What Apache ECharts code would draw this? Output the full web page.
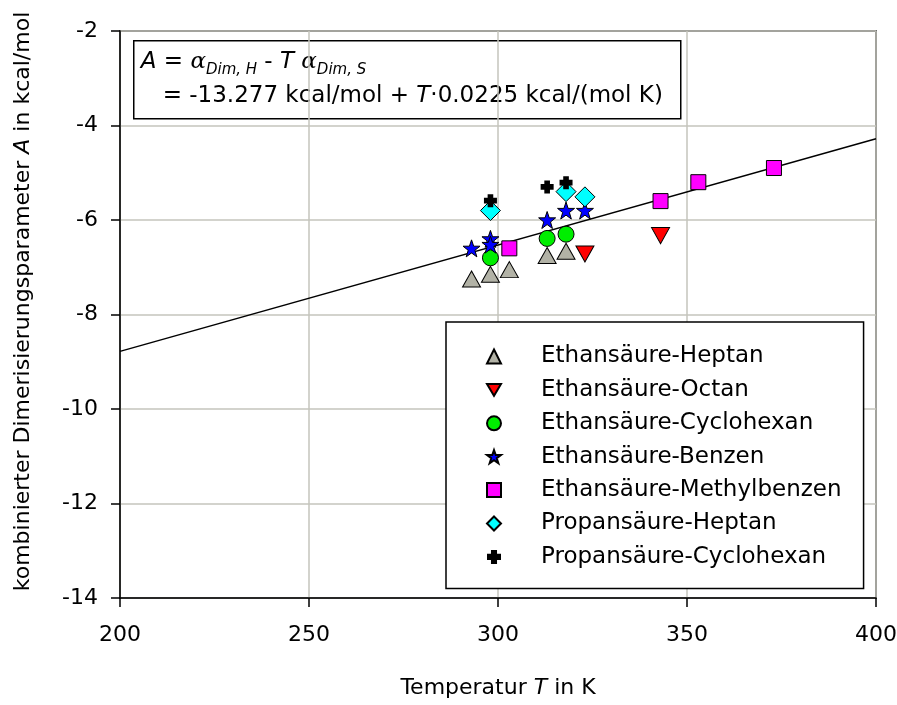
<!DOCTYPE html>
<html>
<head>
<meta charset="utf-8">
<script src="https://cdn.jsdelivr.net/npm/echarts@6/dist/echarts.min.js"></script>
<style>
  html, body { margin: 0; padding: 0; background: #fff; }
  #main { width: 897px; height: 705px; }
</style>
</head>
<body>
<div id="main"></div>
<script>
// Messwerte [T in K, A in kcal/mol]
var heptan = [[293, -7.25], [298, -7.15], [303, -7.05], [313, -6.75], [318, -6.66]];
var octan = [[323, -6.72], [343, -6.33]];
var cyclohexan = [[298, -6.80], [313, -6.39], [318, -6.30]];
var benzen = [[293, -6.60], [298, -6.40], [298, -6.52], [313, -6.00], [318, -5.80], [323, -5.80]];
var methylbenzen = [[303, -6.60], [343, -5.60], [353, -5.20], [373, -4.90]];
var propHeptan = [[298, -5.80], [318, -5.40], [323, -5.51]];
var propCyclohexan = [[298, -5.59], [313, -5.30], [318, -5.21]];

// Ausgleichsgerade, Endpunkte
var fitT = [200, 400];
var fitA = [-8.78, -4.28];

var xTicks = [200, 250, 300, 350, 400];
var yTicks = [-14, -12, -10, -8, -6, -4, -2];

var FONT = 'DejaVu Sans, sans-serif';
var STAR = 'path://M50,0 L62,34 L98,34 L69,56 L80,91 L50,70 L20,91 L31,56 L2,34 L38,34 Z';
var PLUS = 'path://M-1.3,-3 L1.3,-3 L1.3,-1.3 L3,-1.3 L3,1.3 L1.3,1.3 L1.3,3 L-1.3,3 L-1.3,1.3 L-3,1.3 L-3,-1.3 L-1.3,-1.3 Z';
var TRI_DOWN = 'path://M0,0 L20,0 L10,17 Z';

var myChart = echarts.init(document.getElementById('main'));

function scatter(name, data, symbol, size, color, extra) {
    var s = {
        name: name,
        type: 'scatter',
        data: data,
        symbol: symbol,
        symbolSize: size,
        itemStyle: { color: color, borderColor: '#000', borderWidth: 1, opacity: 1 },
        emphasis: { disabled: true },
        z: 3
    };
    for (var k in extra) s[k] = extra[k];
    return s;
}

var option = {
    animation: false,
    grid: {
        left: 120, right: 21, top: 31, bottom: 107,
        containLabel: false,
        outerBoundsMode: 'none',
        show: true, borderColor: '#000', borderWidth: 1.5
    },
    xAxis: {
        type: 'value',
        min: xTicks[0], max: xTicks[xTicks.length - 1], interval: 50,
        name: 'Temperatur {i|T} in K',
        nameLocation: 'middle',
        nameGap: 79,
        nameTextStyle: { fontFamily: FONT, fontSize: 22, color: '#000', rich: { i: { fontStyle: 'italic', fontFamily: FONT, fontSize: 22 } } },
        axisLine: { lineStyle: { color: '#000', width: 1.5 } },
        axisTick: { inside: false, length: 9, lineStyle: { color: '#000', width: 1.5 } },
        axisLabel: { fontFamily: FONT, fontSize: 22, color: '#000', margin: 26 },
        splitLine: { lineStyle: { color: '#c4c4bc', width: 1.5 } }
    },
    yAxis: {
        type: 'value',
        min: yTicks[0], max: yTicks[yTicks.length - 1], interval: 2,
        name: 'kombinierter Dimerisierungsparameter {i|A} in kcal/mol',
        nameLocation: 'middle',
        nameGap: 86,
        nameTextStyle: {
            fontFamily: FONT, fontSize: 22, color: '#000',
            padding: [0, 0, 0, 26],
            rich: { i: { fontStyle: 'italic', fontFamily: FONT, fontSize: 22 } }
        },
        axisLine: { lineStyle: { color: '#000', width: 1.5 } },
        axisTick: { inside: false, length: 9, lineStyle: { color: '#000', width: 1.5 } },
        axisLabel: { fontFamily: FONT, fontSize: 22, color: '#000', margin: 22 },
        splitLine: { lineStyle: { color: '#c4c4bc', width: 1.5 } }
    },
    legend: {
        orient: 'vertical',
        left: 446, top: 322,
        padding: [23, 22, 20, 40],
        itemGap: 10.4,
        itemWidth: 14, itemHeight: 14,
        backgroundColor: '#fff',
        borderColor: '#000', borderWidth: 1.5,
        textStyle: { fontFamily: FONT, fontSize: 23, color: '#000', padding: [0, 0, 0, 35] },
        selectedMode: false,
        data: ['Ethansäure-Heptan', 'Ethansäure-Octan', 'Ethansäure-Cyclohexan', 'Ethansäure-Benzen',
               'Ethansäure-Methylbenzen', 'Propansäure-Heptan', 'Propansäure-Cyclohexan']
    },
    graphic: [{
        type: 'group',
        left: 133, top: 40,
        z: 100,
        children: [{
            type: 'rect',
            shape: { x: 0, y: 0, width: 547, height: 78 },
            style: { fill: '#fff', stroke: '#000', lineWidth: 1.5 }
        }, {
            type: 'text',
            x: 7, y: 4,
            style: {
                text: '{i|A} = {g|α}{s|Dim, H} - {i|T} {g|α}{s|Dim, S}\n   = -13.277 kcal/mol + {i|T}·0.0225 kcal/(mol K)',
                font: '23px ' + FONT,
                fill: '#000',
                lineHeight: 34,
                rich: {
                    i: { fontStyle: 'italic', fontFamily: FONT, fontSize: 23, lineHeight: 34 },
                    g: { fontStyle: 'italic', fontFamily: 'DejaVu Serif', fontSize: 23, lineHeight: 34 },
                    s: { fontStyle: 'italic', fontFamily: FONT, fontSize: 15, lineHeight: 34, padding: [16, 0, 0, 0] }
                }
            }
        }]
    }],
    series: [
        scatter('Ethansäure-Heptan', heptan, 'triangle', [18, 16], '#b2b2a6'),
        scatter('Ethansäure-Octan', octan, TRI_DOWN, [18, 16], '#ff0000'),
        scatter('Ethansäure-Cyclohexan', cyclohexan, 'circle', 16, '#00ee00'),
        scatter('Ethansäure-Benzen', benzen, STAR, 17, '#0000ff'),
        scatter('Ethansäure-Methylbenzen', methylbenzen, 'rect', 15, '#ff00ff'),
        scatter('Propansäure-Heptan', propHeptan, 'diamond', 20, '#00ffff'),
        scatter('Propansäure-Cyclohexan', propCyclohexan, PLUS, 13, '#000', { itemStyle: { color: '#000', borderWidth: 0, opacity: 1 } }),
        {
            name: 'fit',
            type: 'line',
            data: fitT.map(function (t, i) { return [t, fitA[i]]; }),
            symbol: 'none',
            lineStyle: { color: '#000', width: 1.5 },
            silent: true,
            z: 2
        }
    ]
};
myChart.setOption(option);
</script>
</body>
</html>
